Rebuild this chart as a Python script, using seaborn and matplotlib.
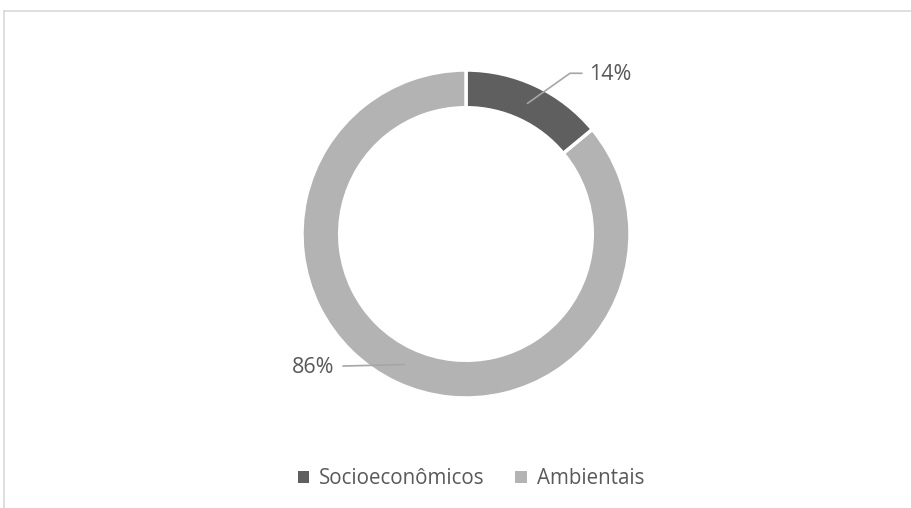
import matplotlib
matplotlib.use("Agg")
import matplotlib.pyplot as plt
from matplotlib.lines import Line2D
from matplotlib.patches import Patch
import numpy as np
import seaborn as sns

categories = ["Socioeconômicos", "Ambientais"]
values = [14, 86]
colors = ["#5f5f5f", "#b3b3b3"]
text_color = "#595959"

sns.set_theme(style="white")
plt.rcParams["font.family"] = ["Open Sans", "DejaVu Sans"]

W, H = 911, 508
fig = plt.figure(figsize=(W / 100, H / 100), dpi=100)
fig.patch.set_facecolor("white")

# chart area border (top and left edges visible)
fig.add_artist(Line2D([4 / W, 4 / W], [0, 1 - 11 / H], color="#d9d9d9", lw=1.2,
                      transform=fig.transFigure))
fig.add_artist(Line2D([4 / W, 1], [1 - 11 / H, 1 - 11 / H], color="#d9d9d9", lw=1.2,
                      transform=fig.transFigure))

cx, cy, r = 466, 234, 164
ax = fig.add_axes([(cx - r) / W, (H - cy - r) / H, 2 * r / W, 2 * r / H])
wedges, _ = ax.pie(values, colors=colors, startangle=90, counterclock=False,
                   radius=1, wedgeprops=dict(width=0.23, edgecolor="white", linewidth=2.5))
ax.set_xlim(-1, 1)
ax.set_ylim(-1, 1)
ax.set_aspect("equal")
ax.axis("off")

# data labels with leader lines
total = sum(values)
start = 90.0
label_cfg = [
    dict(elbow=(0.634, 0.98), end=(0.707, 0.98), text=(0.75, 0.97), ha="left"),
    dict(elbow=None, end=(-0.75, -0.805), text=(-0.80, -0.817), ha="right"),
]
for v, cfg in zip(values, label_cfg):
    mid = np.deg2rad(start - v / total * 360 / 2)
    start -= v / total * 360
    p0 = (0.88 * np.cos(mid), 0.88 * np.sin(mid))
    pts = [p0] + ([cfg["elbow"]] if cfg["elbow"] else []) + [cfg["end"]]
    xs, ys = zip(*pts)
    ax.plot(xs, ys, color="#a6a6a6", lw=1.2, clip_on=False)
    ax.text(cfg["text"][0], cfg["text"][1], f"{v}%", ha=cfg["ha"], va="center",
            fontsize=15.5, color=text_color, clip_on=False)

handles = [Patch(facecolor=c, edgecolor="none") for c in colors]
fig.legend(handles, categories, loc="center", bbox_to_anchor=(471 / W, (H - 479) / H),
           ncol=2, frameon=False, fontsize=14.8, labelcolor=text_color,
           handlelength=0.55, handleheight=0.55, handletextpad=0.5, columnspacing=1.5)

fig.savefig("out.png", dpi=100, facecolor="white")
